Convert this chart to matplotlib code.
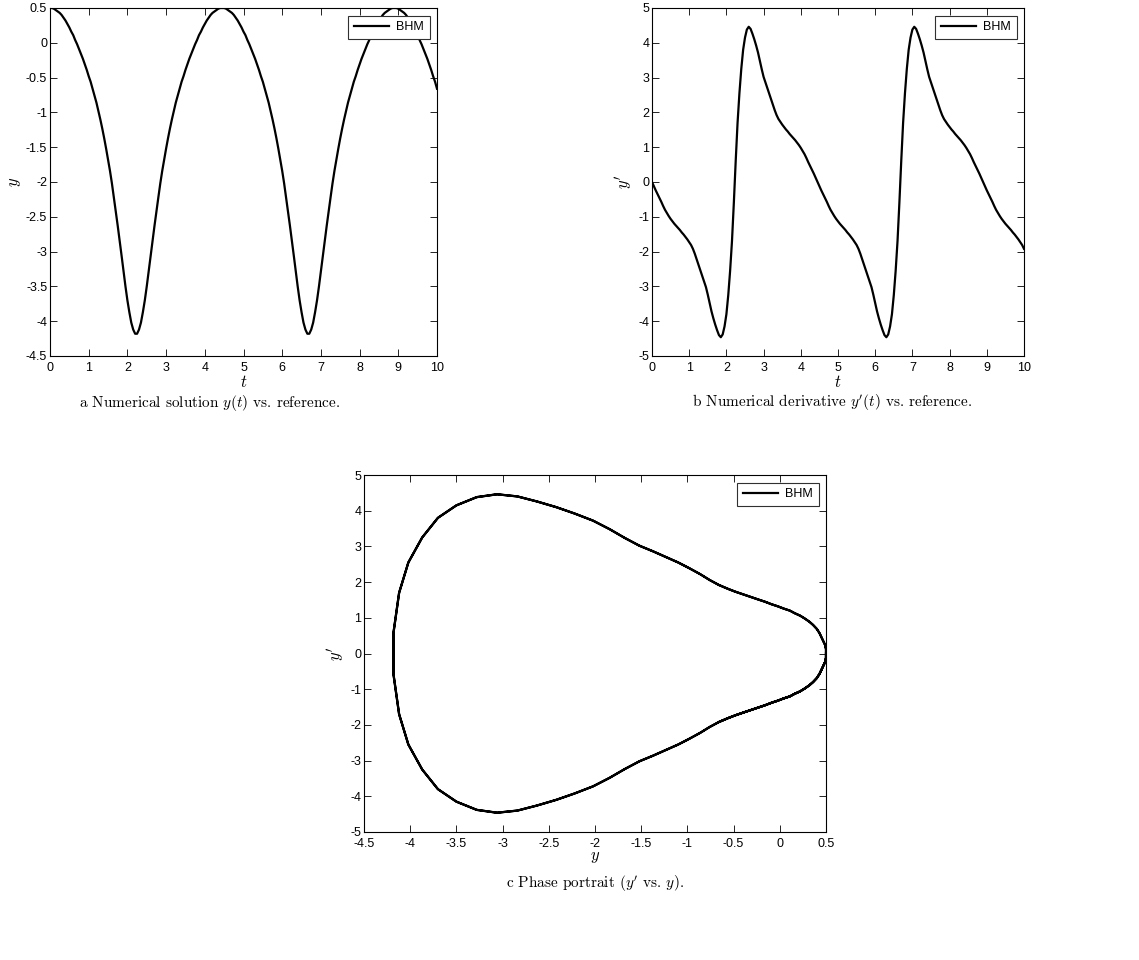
import numpy as np
import matplotlib
matplotlib.use("Agg")
import matplotlib.pyplot as plt
from matplotlib.ticker import FuncFormatter

# sample times of the BHM solution
t = np.linspace(0, 10, 201)

# y(t), one value per sample
y = [
    0.50, 0.50, 0.49, 0.47, 0.45, 0.43, 0.40, 0.36, 0.32, 0.27,
    0.22, 0.16, 0.11, 0.04, -0.02, -0.09, -0.16, -0.23, -0.31, -0.39,
    -0.48, -0.56, -0.66, -0.76, -0.86, -0.98, -1.10, -1.23, -1.37, -1.52,
    -1.68, -1.84, -2.02, -2.22, -2.42, -2.63, -2.84, -3.06, -3.28, -3.50,
    -3.70, -3.87, -4.02, -4.12, -4.18, -4.18, -4.12, -4.02, -3.87, -3.70,
    -3.50, -3.28, -3.06, -2.84, -2.63, -2.42, -2.22, -2.02, -1.84, -1.68,
    -1.52, -1.37, -1.23, -1.10, -0.98, -0.86, -0.76, -0.66, -0.56, -0.48,
    -0.39, -0.31, -0.23, -0.16, -0.09, -0.02, 0.04, 0.11, 0.16, 0.22,
    0.27, 0.32, 0.36, 0.40, 0.43, 0.45, 0.47, 0.49, 0.50,
    0.50, 0.50, 0.49, 0.47, 0.45, 0.43, 0.40, 0.36, 0.32, 0.27,
    0.22, 0.16, 0.11, 0.04, -0.02, -0.09, -0.16, -0.23, -0.31, -0.39,
    -0.48, -0.56, -0.66, -0.76, -0.86, -0.98, -1.10, -1.23, -1.37, -1.52,
    -1.68, -1.84, -2.02, -2.22, -2.42, -2.63, -2.84, -3.06, -3.28, -3.50,
    -3.70, -3.87, -4.02, -4.12, -4.18, -4.18, -4.12, -4.02, -3.87, -3.70,
    -3.50, -3.28, -3.06, -2.84, -2.63, -2.42, -2.22, -2.02, -1.84, -1.68,
    -1.52, -1.37, -1.23, -1.10, -0.98, -0.86, -0.76, -0.66, -0.56, -0.48,
    -0.39, -0.31, -0.23, -0.16, -0.09, -0.02, 0.04, 0.11, 0.16, 0.22,
    0.27, 0.32, 0.36, 0.40, 0.43, 0.45, 0.47, 0.49, 0.50,
    0.50, 0.50, 0.49, 0.47, 0.45, 0.43, 0.40, 0.36, 0.32, 0.27,
    0.22, 0.16, 0.11, 0.04, -0.02, -0.09, -0.16, -0.23, -0.31, -0.39,
    -0.48, -0.56, -0.66,
]

# y'(t), same samples
dy = [
    0.00, -0.12, -0.24, -0.35, -0.46, -0.57, -0.69, -0.80, -0.89, -0.98,
    -1.06, -1.13, -1.20, -1.26, -1.32, -1.38, -1.45, -1.51, -1.58, -1.65,
    -1.73, -1.81, -1.92, -2.06, -2.22, -2.39, -2.55, -2.70, -2.86, -3.02,
    -3.24, -3.48, -3.72, -3.92, -4.10, -4.26, -4.40, -4.46, -4.38, -4.15,
    -3.80, -3.25, -2.55, -1.70, -0.60, 0.60, 1.70, 2.55, 3.25, 3.80,
    4.15, 4.38, 4.46, 4.40, 4.26, 4.10, 3.92, 3.72, 3.48, 3.24,
    3.02, 2.86, 2.70, 2.55, 2.39, 2.22, 2.06, 1.92, 1.81, 1.73,
    1.65, 1.58, 1.51, 1.45, 1.38, 1.32, 1.26, 1.20, 1.13, 1.06,
    0.98, 0.89, 0.80, 0.69, 0.57, 0.46, 0.35, 0.24, 0.12,
    0.00, -0.12, -0.24, -0.35, -0.46, -0.57, -0.69, -0.80, -0.89, -0.98,
    -1.06, -1.13, -1.20, -1.26, -1.32, -1.38, -1.45, -1.51, -1.58, -1.65,
    -1.73, -1.81, -1.92, -2.06, -2.22, -2.39, -2.55, -2.70, -2.86, -3.02,
    -3.24, -3.48, -3.72, -3.92, -4.10, -4.26, -4.40, -4.46, -4.38, -4.15,
    -3.80, -3.25, -2.55, -1.70, -0.60, 0.60, 1.70, 2.55, 3.25, 3.80,
    4.15, 4.38, 4.46, 4.40, 4.26, 4.10, 3.92, 3.72, 3.48, 3.24,
    3.02, 2.86, 2.70, 2.55, 2.39, 2.22, 2.06, 1.92, 1.81, 1.73,
    1.65, 1.58, 1.51, 1.45, 1.38, 1.32, 1.26, 1.20, 1.13, 1.06,
    0.98, 0.89, 0.80, 0.69, 0.57, 0.46, 0.35, 0.24, 0.12,
    0.00, -0.12, -0.24, -0.35, -0.46, -0.57, -0.69, -0.80, -0.89, -0.98,
    -1.06, -1.13, -1.20, -1.26, -1.32, -1.38, -1.45, -1.51, -1.58, -1.65,
    -1.73, -1.81, -1.92,
]

t_ticks = list(range(0, 11))
y_ticks = [-4.5, -4, -3.5, -3, -2.5, -2, -1.5, -1, -0.5, 0, 0.5]
dy_ticks = [-5, -4, -3, -2, -1, 0, 1, 2, 3, 4, 5]

plt.rcParams['font.family'] = ['Liberation Sans', 'DejaVu Sans']
plt.rcParams['mathtext.fontset'] = 'cm'
plt.rcParams['axes.unicode_minus'] = False
plt.rcParams['axes.linewidth'] = 0.8

W, H = 1139, 960
fig = plt.figure(figsize=(W / 100, H / 100), dpi=100)


def box(x0, y0, x1, y1):
    # pixel box (left, top, right, bottom) -> figure fraction
    return [x0 / W, 1 - y1 / H, (x1 - x0) / W, (y1 - y0) / H]


fmt = FuncFormatter(lambda v, pos: '%g' % v)


def style(ax, xt, yt, xlab, ylab):
    ax.set_xticks(xt)
    ax.set_yticks(yt)
    ax.xaxis.set_major_formatter(fmt)
    ax.yaxis.set_major_formatter(fmt)
    ax.tick_params(direction='in', top=True, right=True, length=5,
                   width=0.6, labelsize=9, colors='black')
    ax.tick_params(axis='x', pad=4)
    ax.tick_params(axis='y', pad=2)
    ax.set_xlabel(xlab, fontsize=12, labelpad=0)
    ax.set_ylabel(ylab, fontsize=12, labelpad=2)
    leg = ax.legend(loc='upper right', fontsize=9, fancybox=False,
                    framealpha=1, edgecolor='#303030', handlelength=2.8,
                    handletextpad=0.6, borderpad=0.45, borderaxespad=0.6)
    leg.get_frame().set_linewidth(0.8)


ax1 = fig.add_axes(box(50, 8, 437, 356))
ax1.plot(t, y, color='black', lw=1.6, label='BHM')
ax1.set_xlim(0, 10)
ax1.set_ylim(-4.5, 0.5)
style(ax1, t_ticks, y_ticks, '$t$', '$y$')

ax2 = fig.add_axes(box(652, 8, 1024, 356))
ax2.plot(t, dy, color='black', lw=1.6, label='BHM')
ax2.set_xlim(0, 10)
ax2.set_ylim(-5, 5)
style(ax2, t_ticks, dy_ticks, '$t$', "$y'$")

ax3 = fig.add_axes(box(364, 475, 826, 832))
ax3.plot(y, dy, color='black', lw=1.6, label='BHM')
ax3.set_xlim(-4.5, 0.5)
ax3.set_ylim(-5, 5)
style(ax3, y_ticks, dy_ticks, '$y$', "$y'$")

cap = dict(ha='center', va='center', fontsize=11, family='cmr10')
fig.text(210 / W, 1 - 403 / H, "a Numerical solution $y(t)$ vs. reference.", **cap)
fig.text(832 / W, 1 - 403 / H, "b Numerical derivative $y'(t)$ vs. reference.", **cap)
fig.text(595 / W, 1 - 884 / H, "c Phase portrait ($y'$ vs. $y$).", **cap)

fig.savefig('out.png', dpi=100)
